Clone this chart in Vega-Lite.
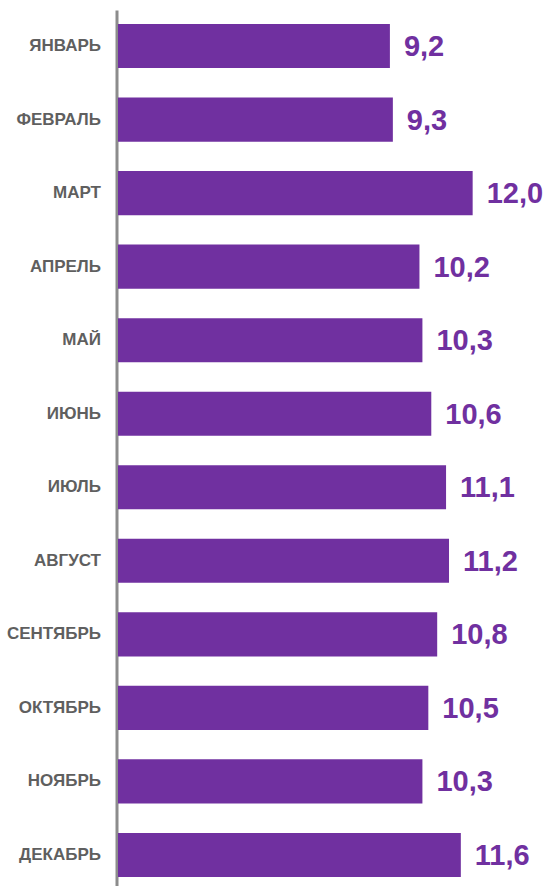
{
  "$schema": "https://vega.github.io/schema/vega-lite/v6.json",
  "autosize": "none",
  "padding": {"left": 118, "top": 10, "right": 0, "bottom": 0},
  "width": 425,
  "height": 881,
  "background": "white",
  "config": {
    "view": {"stroke": null},
    "locale": {"number": {"decimal": ",", "thousands": " ", "grouping": [3], "currency": ["", ""]}}
  },
  "data": {
    "values": [
      {"month": "ЯНВАРЬ", "value": 9.2},
      {"month": "ФЕВРАЛЬ", "value": 9.3},
      {"month": "МАРТ", "value": 12.0},
      {"month": "АПРЕЛЬ", "value": 10.2},
      {"month": "МАЙ", "value": 10.3},
      {"month": "ИЮНЬ", "value": 10.6},
      {"month": "ИЮЛЬ", "value": 11.1},
      {"month": "АВГУСТ", "value": 11.2},
      {"month": "СЕНТЯБРЬ", "value": 10.8},
      {"month": "ОКТЯБРЬ", "value": 10.5},
      {"month": "НОЯБРЬ", "value": 10.3},
      {"month": "ДЕКАБРЬ", "value": 11.6}
    ]
  },
  "encoding": {
    "y": {
      "field": "month",
      "type": "nominal",
      "sort": null,
      "scale": {"paddingInner": 0.4, "paddingOuter": 0.19},
      "axis": {
        "title": null,
        "ticks": false,
        "domainColor": "#8c8c8c",
        "domainWidth": 3,
        "offset": 1.5,
        "labelPadding": 16,
        "labelFont": "Liberation Sans",
        "labelFontSize": 17,
        "labelFontWeight": "bold",
        "labelColor": "#5f5f5f"
      }
    },
    "x": {
      "field": "value",
      "type": "quantitative",
      "scale": {"domain": [0, 14.38], "nice": false},
      "axis": null
    }
  },
  "layer": [
    {"mark": {"type": "bar", "color": "#7030A0"}},
    {
      "mark": {
        "type": "text",
        "align": "left",
        "baseline": "middle",
        "dx": 14,
        "dy": 1,
        "font": "Liberation Sans",
        "fontSize": 29,
        "fontWeight": "bold",
        "color": "#7030A0"
      },
      "encoding": {
        "text": {"field": "value", "type": "quantitative", "format": ".1f"}
      }
    }
  ]
}
